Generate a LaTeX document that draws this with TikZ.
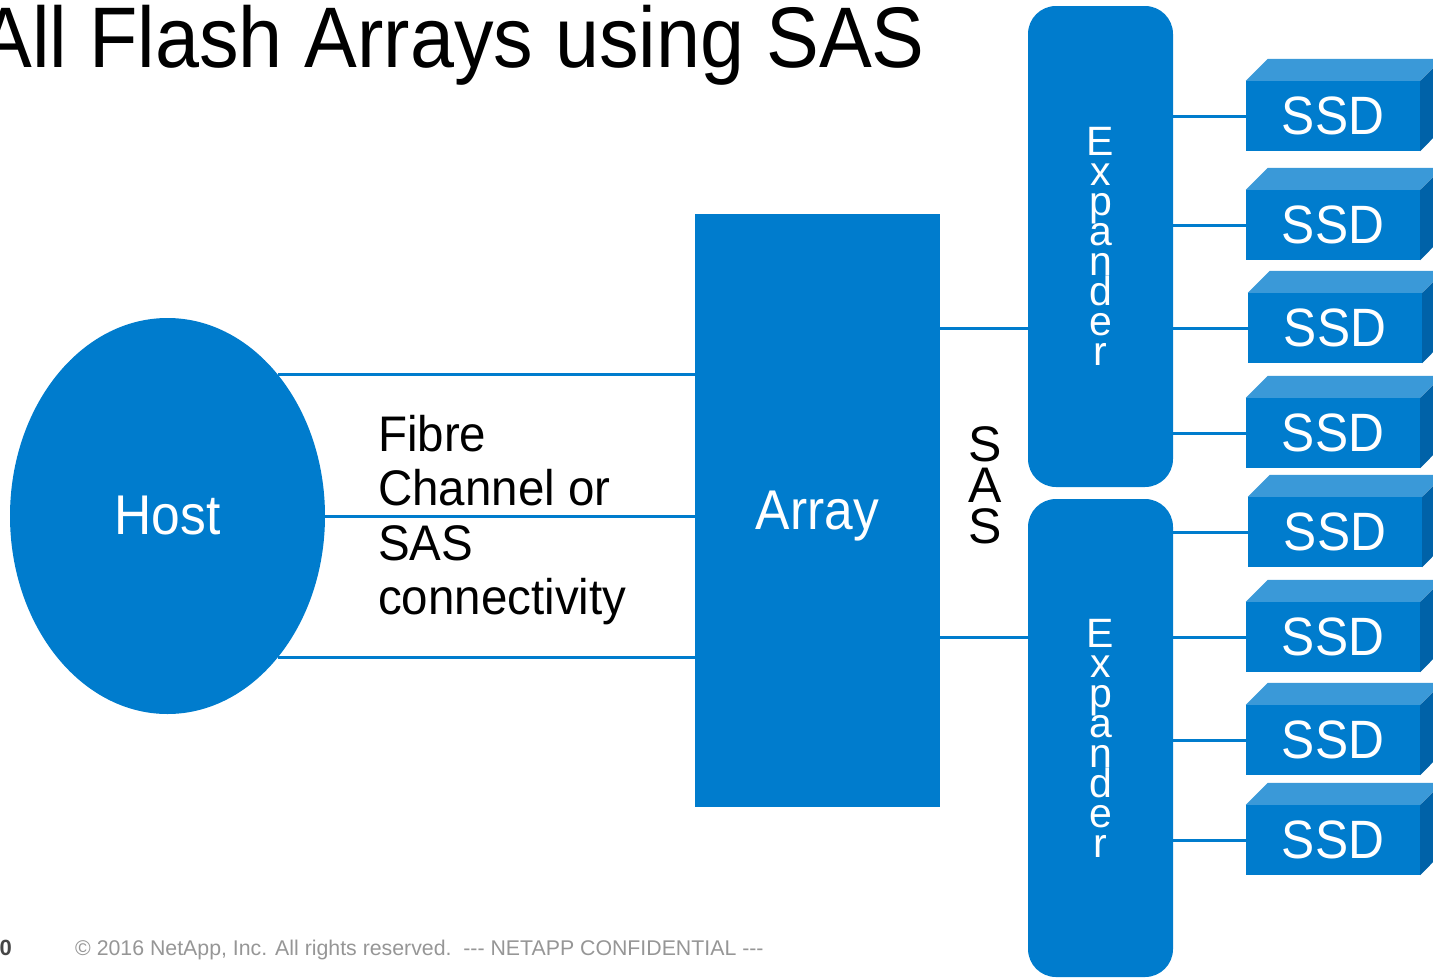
\documentclass[tikz,border=0pt]{standalone}
\usepackage{fontspec}
\setmainfont{Liberation Sans}
\usetikzlibrary{shapes.geometric}
\definecolor{nablue}{RGB}{0,124,205}
\definecolor{nalight}{RGB}{58,153,216}
\definecolor{nadark}{RGB}{0,98,168}
\definecolor{footgray}{RGB}{150,150,150}
\definecolor{pagegray}{RGB}{70,70,70}
\newcommand{\sq}[1]{\scalebox{0.92}[1]{#1}}
\newcommand{\sqb}[1]{\scalebox{0.95}[1]{#1}}
\newcommand{\tightlines}{\lineskiplimit=-100pt\relax}
\begin{document}
\begin{tikzpicture}[x=1pt,y=-1pt,
  blk/.style={fill=nablue, draw=none, inner sep=0pt},
  wire/.style={draw=nablue, line width=3pt},
  bigwhite/.style={text=white, font=\fontsize{56}{60}\selectfont},
  ssdbox/.style={blk, minimum width=174pt, minimum height=70pt, text=white, font=\fontsize{54}{58}\selectfont},
  expbox/.style={blk, rounded corners=28pt, minimum width=145pt, text=white, align=center,
     font=\fontsize{41}{30}\selectfont\tightlines},
]
\useasboundingbox (0,0) rectangle (1433,978);

% title and footer
\node[anchor=base east, inner sep=0pt, font=\fontsize{86}{90}\selectfont] (title) at (925,67) {\sq{All Flash Arrays using SAS}};
\node[anchor=base west, inner sep=0pt, text=footgray, font=\fontsize{21.3}{24}\selectfont] (foot) at (75,955)
  {© 2016 NetApp, Inc. All rights reserved.\ \ -{}-{}- NETAPP CONFIDENTIAL -{}-{}-};
\node[anchor=base east, inner sep=0pt, text=pagegray, font=\bfseries\fontsize{22}{24}\selectfont] (page) at (12,955) {0};

% main blocks
\node[blk, ellipse, minimum width=315pt, minimum height=396pt, bigwhite] (host) at (167.5,516) {\sq{Host}};
\node[blk, minimum width=245pt, minimum height=593pt, bigwhite, text depth=0pt] (array) at (817.5,510.5) {\sq{Array}};
\node[expbox, minimum height=481pt] (exp1) at (1100.5,246.5) {E\\x\\p\\a\\n\\d\\e\\r};
\node[expbox, minimum height=478pt] (exp2) at (1100.5,738) {E\\x\\p\\a\\n\\d\\e\\r};

\node[anchor=west, align=left, inner sep=0pt, font=\fontsize{50}{54.5}\selectfont] (fc) at (378,520)
  {\sqb{Fibre}\\\sqb{Channel or}\\\sqb{SAS}\\\sqb{connectivity}};
\node[align=center, inner sep=0pt, font=\fontsize{50}{41}\selectfont\tightlines] (sas) at (985,485) {S\\A\\S};

% SSDs
\foreach \i/\x/\y in {1/1333/116, 2/1333/225, 3/1335/328, 4/1333/433, 5/1335/532, 6/1333/637, 7/1333/740, 8/1333/840} {
  \node[ssdbox] (ssd\i) at (\x,\y) {\sq{SSD}};
  \fill[nalight] (ssd\i.north west) -- ++(22,-22) -- ++(174,0) -- (ssd\i.north east) -- cycle;
  \fill[nadark] (ssd\i.north east) -- ++(22,-22) -- ++(0,70) -- (ssd\i.south east) -- cycle;
}

% connectors
\draw[wire] (host.52) -- (host.52 -| array.west);
\draw[wire] (host.east) -- (host.east -| array.west);
\draw[wire] (host.-52) -- (host.-52 -| array.west);
\draw[wire] (array.east |- ssd3) -- (exp1.west |- ssd3);
\draw[wire] (array.east |- ssd6) -- (exp2.west |- ssd6);
\foreach \i in {1,...,4} { \draw[wire] (ssd\i.west -| exp1.east) -- (ssd\i.west); }
\foreach \i in {5,...,8} { \draw[wire] (ssd\i.west -| exp2.east) -- (ssd\i.west); }
\end{tikzpicture}
\end{document}
